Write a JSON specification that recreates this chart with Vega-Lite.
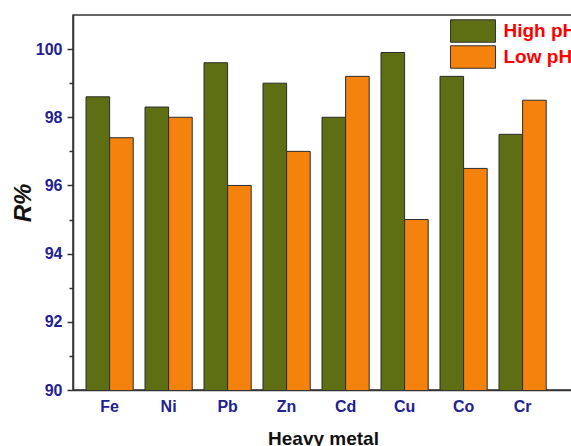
{
  "$schema": "https://vega.github.io/schema/vega-lite/v6.json",
  "width": 500,
  "height": 375,
  "autosize": {"type": "none"},
  "padding": {"left": 73, "top": 15, "right": 0, "bottom": 56},
  "background": "white",
  "config": {
    "font": "Liberation Sans",
    "view": {"stroke": "#333333", "strokeWidth": 1.5},
    "axis": {"grid": false, "domainColor": "#333333", "domainWidth": 1.5, "tickColor": "#333333", "tickWidth": 1.5}
  },
  "data": {
    "values": [
      {"metal": "Fe", "condition": "High pH", "R": 98.6},
      {"metal": "Fe", "condition": "Low pH", "R": 97.4},
      {"metal": "Ni", "condition": "High pH", "R": 98.3},
      {"metal": "Ni", "condition": "Low pH", "R": 98.0},
      {"metal": "Pb", "condition": "High pH", "R": 99.6},
      {"metal": "Pb", "condition": "Low pH", "R": 96.0},
      {"metal": "Zn", "condition": "High pH", "R": 99.0},
      {"metal": "Zn", "condition": "Low pH", "R": 97.0},
      {"metal": "Cd", "condition": "High pH", "R": 98.0},
      {"metal": "Cd", "condition": "Low pH", "R": 99.2},
      {"metal": "Cu", "condition": "High pH", "R": 99.9},
      {"metal": "Cu", "condition": "Low pH", "R": 95.0},
      {"metal": "Co", "condition": "High pH", "R": 99.2},
      {"metal": "Co", "condition": "Low pH", "R": 96.5},
      {"metal": "Cr", "condition": "High pH", "R": 97.5},
      {"metal": "Cr", "condition": "Low pH", "R": 98.5}
    ]
  },
  "layer": [
    {
      "mark": {"type": "bar", "stroke": "#2b2b2b", "strokeWidth": 1, "clip": true},
      "encoding": {
        "x": {
          "field": "metal", "type": "nominal",
          "sort": ["Fe", "Ni", "Pb", "Zn", "Cd", "Cu", "Co", "Cr"],
          "scale": {"paddingInner": 0.2, "paddingOuter": 0.3375, "align": 0.327},
          "axis": {
            "title": "Heavy metal", "titleFontSize": 19, "titleFontWeight": "bold", "titleColor": "#111111", "titlePadding": 15,
            "labelAngle": 0, "labelFontSize": 16, "labelFontWeight": "bold", "labelColor": "#22228f", "labelPadding": 8,
            "ticks": false, "tickSize": 0
          }
        },
        "xOffset": {"field": "condition", "type": "nominal", "sort": ["High pH", "Low pH"]},
        "y": {
          "field": "R", "type": "quantitative",
          "scale": {"domain": [90, 101], "nice": false, "zero": false},
          "axis": {
            "orient": "left", "values": [90, 92, 94, 96, 98, 100], "tickSize": 6,
            "labelFontSize": 16, "labelFontWeight": "bold", "labelColor": "#22228f", "labelPadding": 5,
            "title": "R%", "titleFontSize": 24, "titleFontWeight": "bold", "titleFontStyle": "italic", "titleColor": "#111111", "titlePadding": 0
          }
        },
        "color": {
          "field": "condition", "type": "nominal",
          "scale": {"domain": ["High pH", "Low pH"], "range": ["#5e6e12", "#f5820c"]},
          "legend": {
            "orient": "none", "legendX": 388, "legendY": 4, "title": null, "padding": 0,
            "symbolType": "M-2,-1H2V1H-2Z", "symbolSize": 506,
            "symbolStrokeColor": "#333333", "symbolStrokeWidth": 1, "symbolOpacity": 1,
            "labelColor": "#ff0000", "labelFontWeight": "bold", "labelFontSize": 19, "labelOffset": 18.5,
            "rowPadding": -3
          }
        }
      }
    },
    {
      "mark": {"type": "bar", "opacity": 0},
      "encoding": {
        "x": {"field": "metal", "type": "nominal", "sort": ["Fe", "Ni", "Pb", "Zn", "Cd", "Cu", "Co", "Cr"]},
        "xOffset": {"field": "condition", "type": "nominal", "sort": ["High pH", "Low pH"]},
        "y": {
          "field": "R", "type": "quantitative",
          "axis": {"orient": "left", "values": [91, 93, 95, 97, 99], "tickSize": 4, "labels": false, "domain": false, "title": null}
        }
      }
    }
  ],
  "resolve": {"axis": {"y": "independent"}}
}
